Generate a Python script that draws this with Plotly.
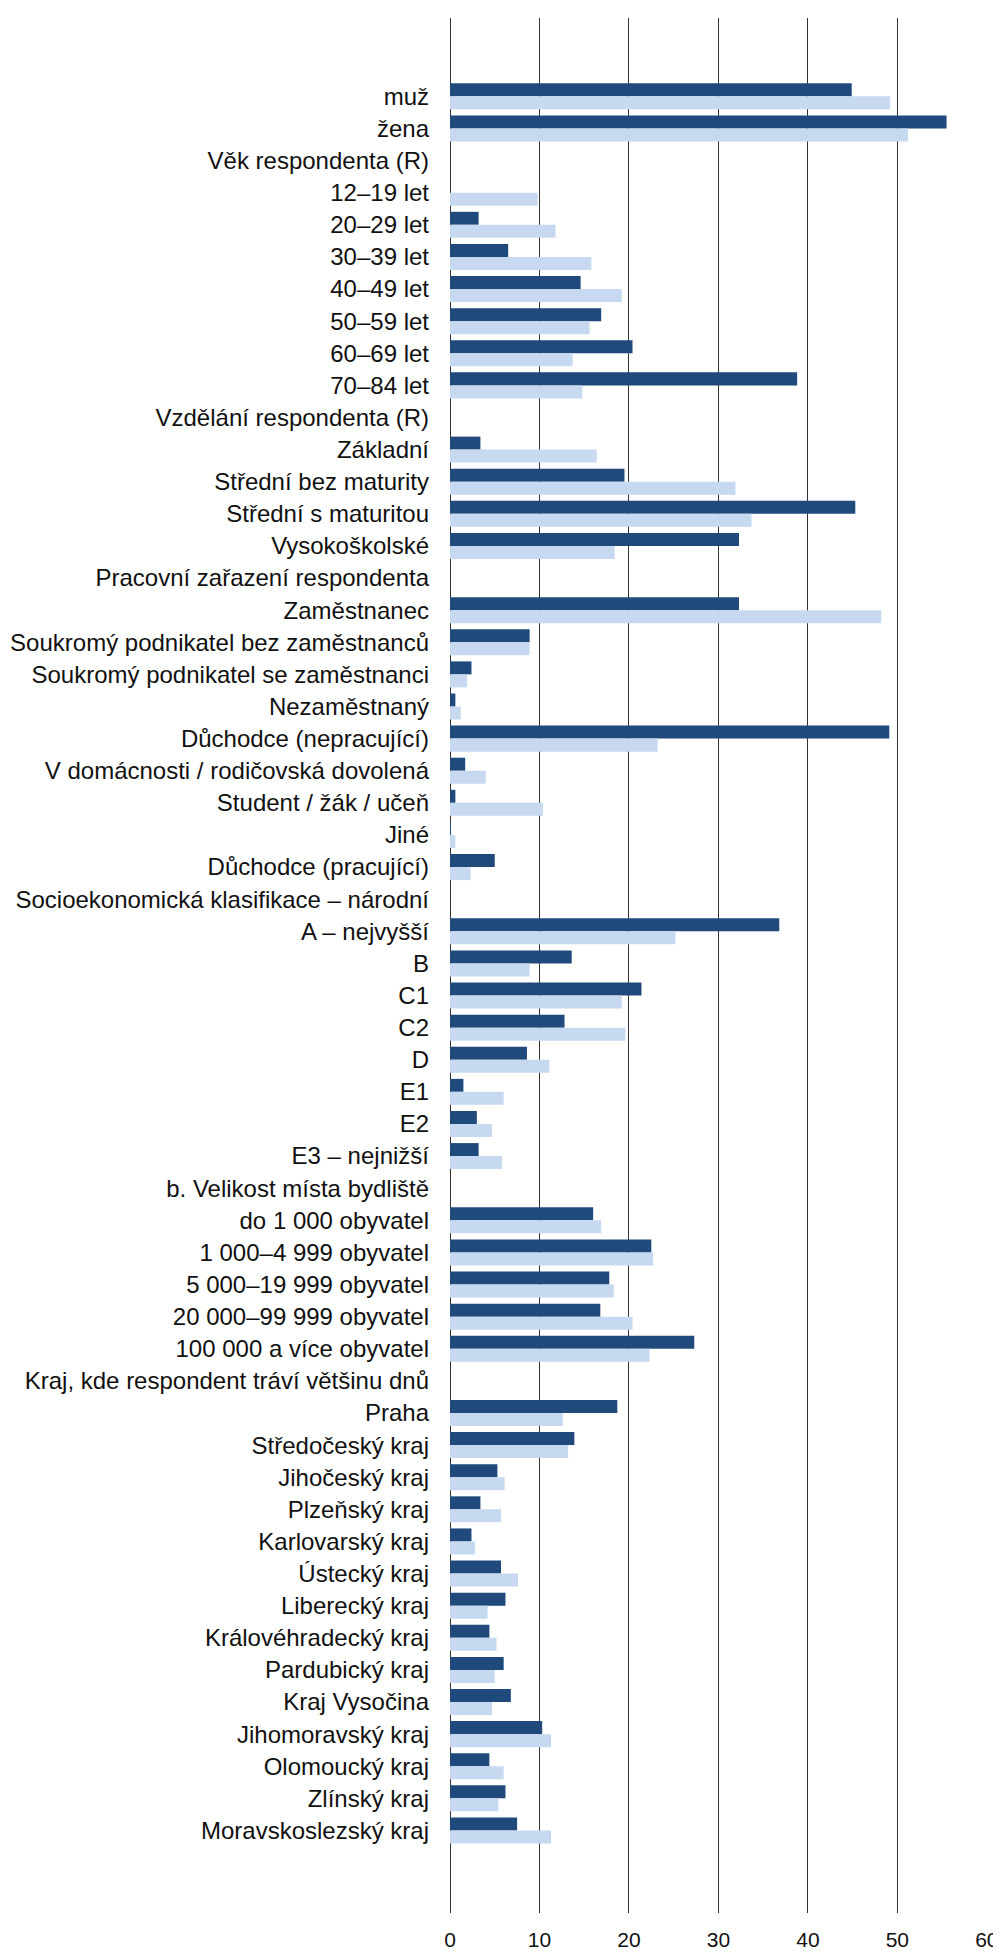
import plotly.graph_objects as go

categories = [
    "muž", "žena", "Věk respondenta (R)", "12–19 let", "20–29 let", "30–39 let",
    "40–49 let", "50–59 let", "60–69 let", "70–84 let", "Vzdělání respondenta (R)",
    "Základní", "Střední bez maturity", "Střední s maturitou", "Vysokoškolské",
    "Pracovní zařazení respondenta", "Zaměstnanec",
    "Soukromý podnikatel bez zaměstnanců", "Soukromý podnikatel se zaměstnanci",
    "Nezaměstnaný", "Důchodce (nepracující)", "V domácnosti / rodičovská dovolená",
    "Student / žák / učeň", "Jiné", "Důchodce (pracující)",
    "Socioekonomická klasifikace – národní", "A – nejvyšší", "B", "C1", "C2", "D",
    "E1", "E2", "E3 – nejnižší", "b. Velikost místa bydliště",
    "do 1 000 obyvatel", "1 000–4 999 obyvatel", "5 000–19 999 obyvatel",
    "20 000–99 999 obyvatel", "100 000 a více obyvatel",
    "Kraj, kde respondent tráví většinu dnů", "Praha", "Středočeský kraj",
    "Jihočeský kraj", "Plzeňský kraj", "Karlovarský kraj", "Ústecký kraj",
    "Liberecký kraj", "Královéhradecký kraj", "Pardubický kraj", "Kraj Vysočina",
    "Jihomoravský kraj", "Olomoucký kraj", "Zlínský kraj", "Moravskoslezský kraj",
]

series_dark = [
    44.9, 55.5, None, 0, 3.2, 6.5, 14.6, 16.9, 20.4, 38.8, None,
    3.4, 19.5, 45.3, 32.3, None, 32.3,
    8.9, 2.4, 0.6, 49.1, 1.7, 0.6, 0.1, 5.0,
    None, 36.8, 13.6, 21.4, 12.8, 8.6, 1.5, 3.0, 3.2, None,
    16.0, 22.5, 17.8, 16.8, 27.3, None,
    18.7, 13.9, 5.3, 3.4, 2.4, 5.7, 6.2, 4.4, 6.0, 6.8, 10.3, 4.4, 6.2, 7.5,
]

series_light = [
    49.2, 51.2, None, 9.8, 11.8, 15.8, 19.2, 15.6, 13.7, 14.8, None,
    16.4, 31.9, 33.7, 18.4, None, 48.2,
    8.9, 1.9, 1.2, 23.2, 4.0, 10.4, 0.6, 2.3,
    None, 25.2, 8.9, 19.2, 19.6, 11.1, 6.0, 4.7, 5.8, None,
    16.9, 22.7, 18.3, 20.4, 22.3, None,
    12.6, 13.2, 6.1, 5.7, 2.8, 7.6, 4.2, 5.2, 5.0, 4.7, 11.3, 6.0, 5.4, 11.3,
]

x_ticks = [0, 10, 20, 30, 40, 50, 60]

DARK = "#214a7c"
LIGHT = "#c6d9f0"
FONT = "Liberation Sans, Arial, sans-serif"

fig = go.Figure()
fig.add_trace(go.Bar(y=categories, x=series_dark, orientation="h",
                     marker=dict(color=DARK, line=dict(width=0)), name="dark"))
fig.add_trace(go.Bar(y=categories, x=series_light, orientation="h",
                     marker=dict(color=LIGHT, line=dict(width=0)), name="light"))

fig.update_layout(
    width=1001, height=1957,
    margin=dict(l=442, r=22, t=10, b=52),
    barmode="group", bargap=0.19, bargroupgap=0,
    showlegend=False,
    plot_bgcolor="white", paper_bgcolor="white",
    font=dict(family=FONT, color="#111111"),
)
fig.update_yaxes(
    type="category", categoryorder="array", categoryarray=categories,
    range=[56.57, -2.44], showgrid=False, zeroline=False, showline=False,
    automargin=False,
    ticks="", ticklabelstandoff=20, tickfont=dict(size=24, color="#111111"),
)
fig.update_xaxes(
    range=[0, 60.02], tickvals=x_ticks, ticktext=[str(v) for v in x_ticks],
    showgrid=True, gridcolor="#333333", gridwidth=1,
    zeroline=True, zerolinecolor="#333333", zerolinewidth=1,
    showline=False, automargin=False, ticks="", ticklabelstandoff=12,
    tickfont=dict(size=21, color="#111111"),
)

fig.write_html("out.html")
